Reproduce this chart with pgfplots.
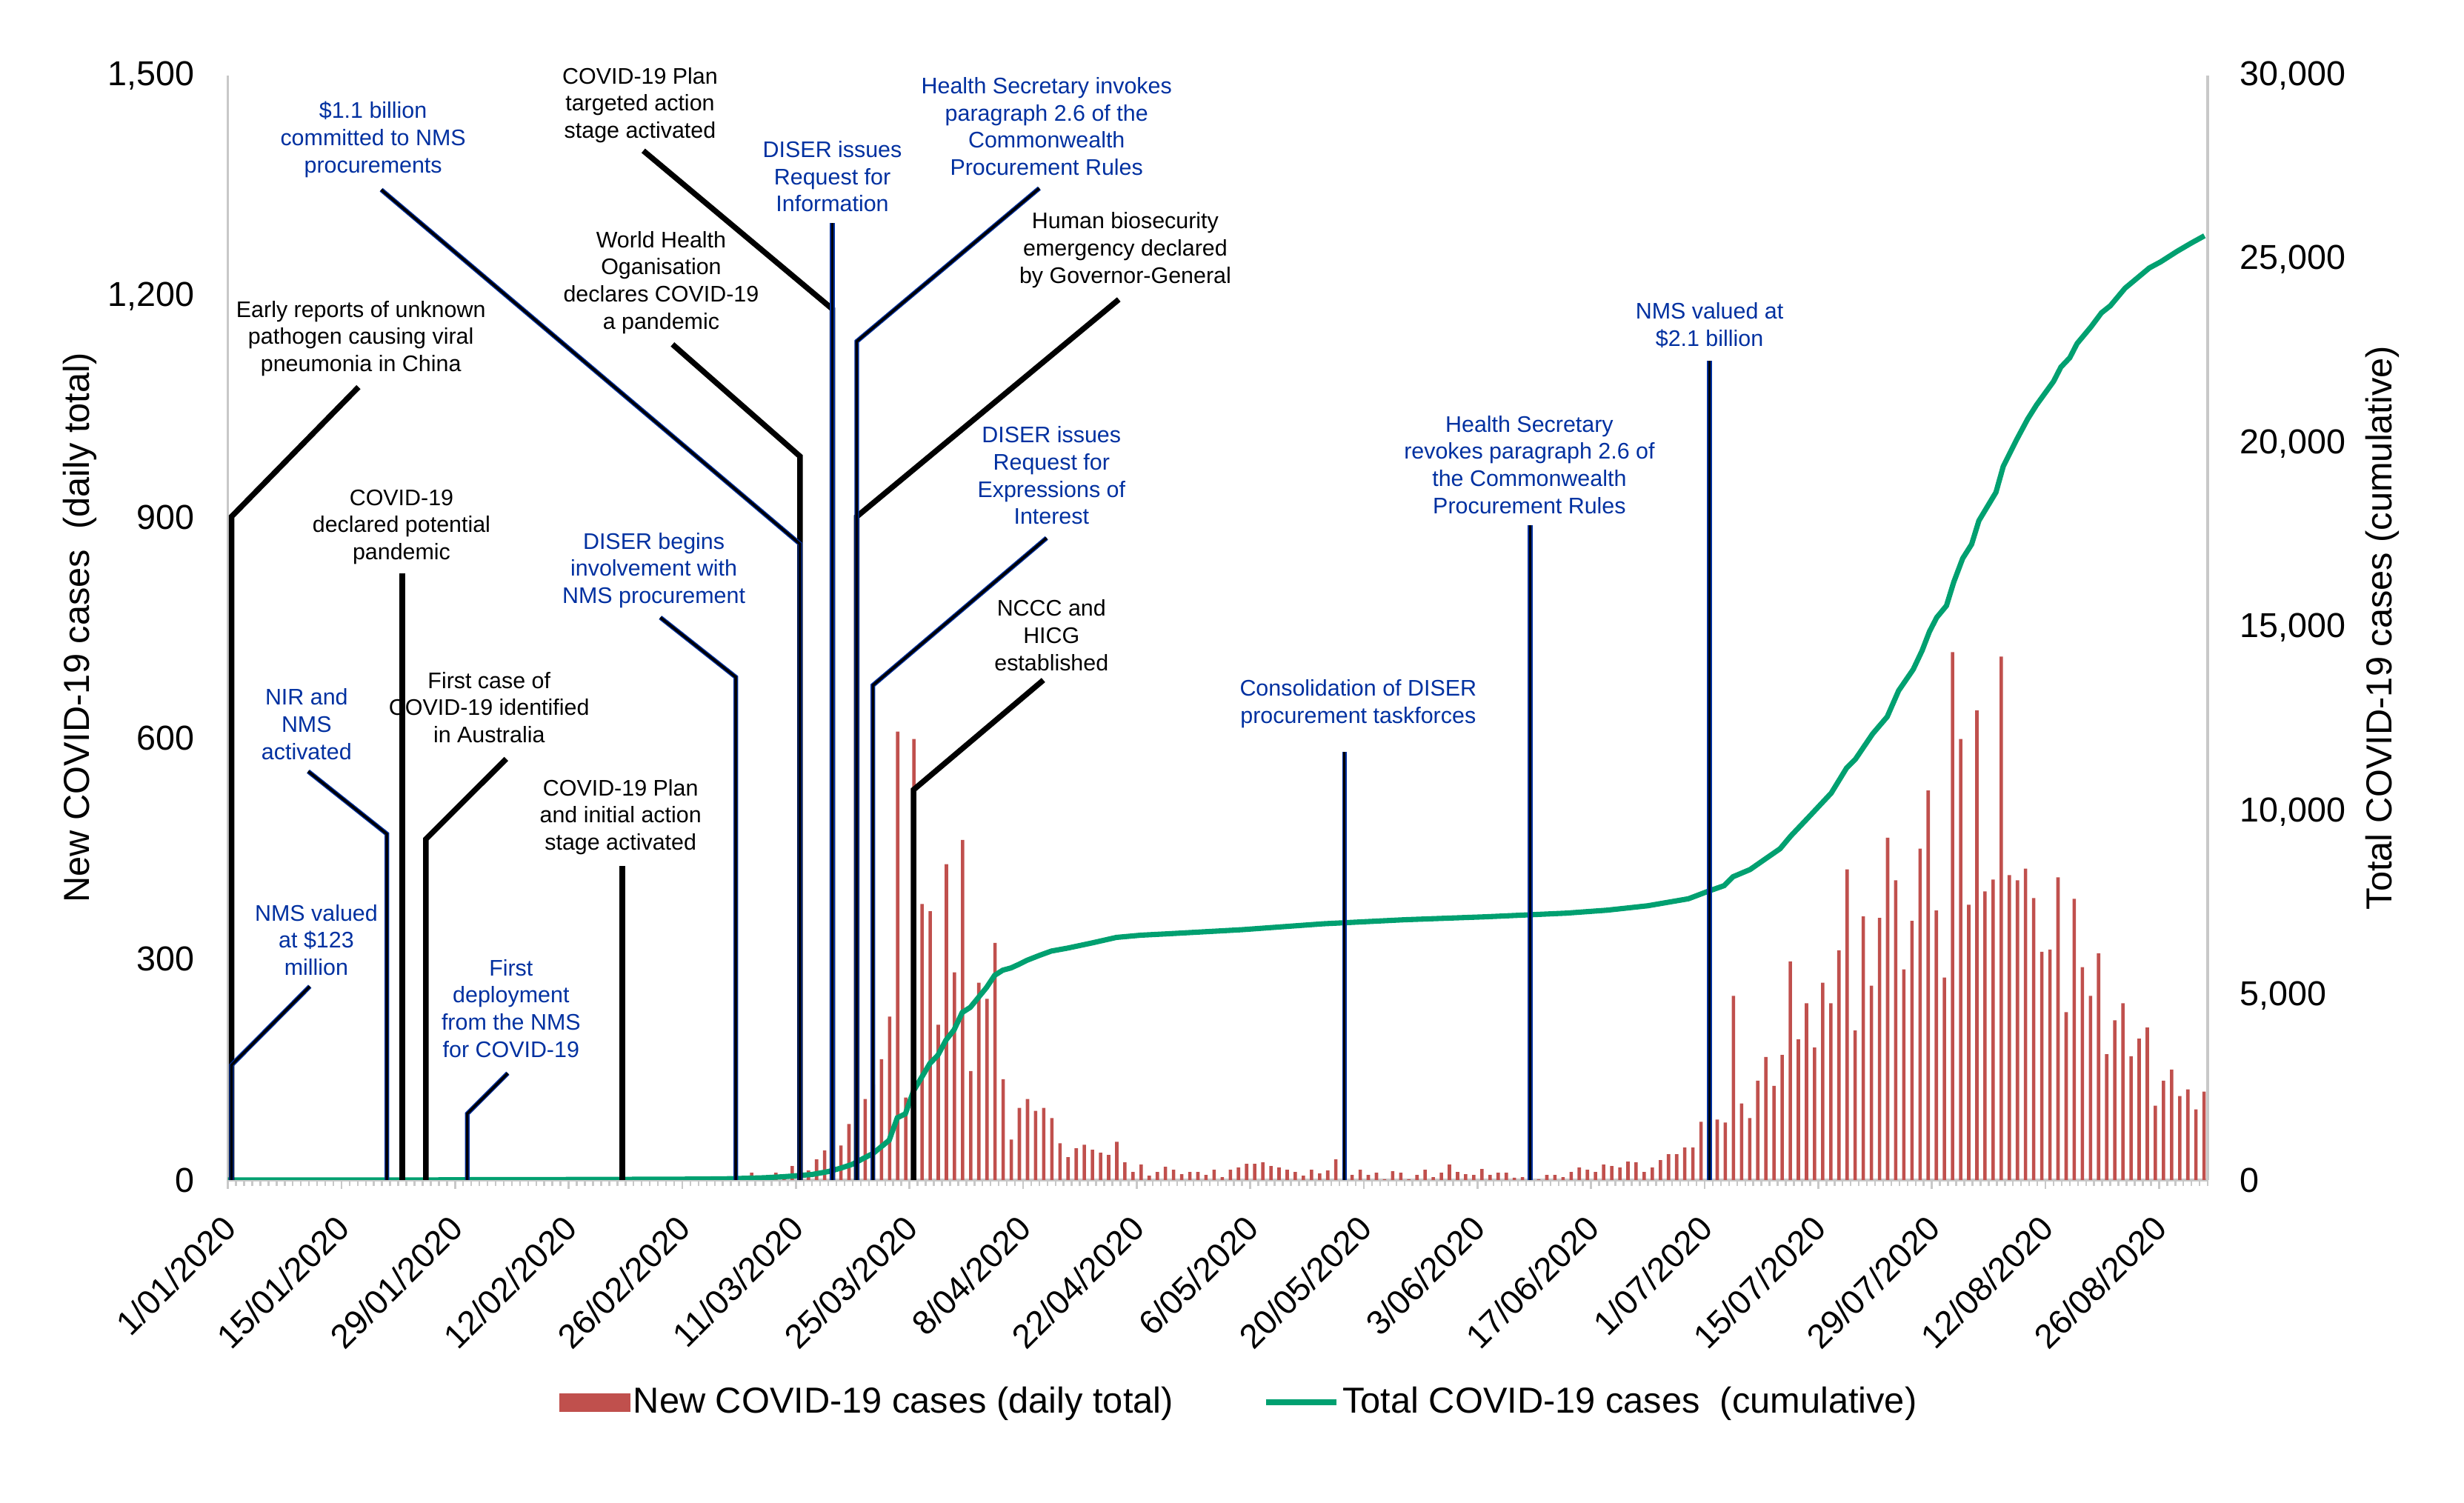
\documentclass[border=0pt]{standalone}
\usepackage{pgfplots}
\pgfplotsset{compat=1.18}
\usepackage{pgfplotstable}
\usepackage{fontspec}
\setmainfont{Liberation Sans}
\definecolor{barred}{RGB}{192,80,77}
\definecolor{cumgreen}{RGB}{0,160,112}
\definecolor{annblue}{RGB}{0,48,160}
\definecolor{axgray}{RGB}{200,200,200}

\pgfplotstableread[row sep=\\]{
d v\\
60 3\\ 61 2\\ 62 4\\ 63 3\\ 64 6\\ 65 10\\ 66 3\\ 67 2\\ 68 10\\ 69 4\\
70 19\\ 71 20\\ 72 13\\ 73 28\\ 74 40\\ 75 50\\ 76 47\\ 77 76\\ 78 90\\ 79 110\\
80 130\\ 81 164\\ 82 222\\ 83 609\\ 84 112\\ 85 599\\ 86 375\\ 87 365\\ 88 211\\ 89 429\\
90 282\\ 91 462\\ 92 148\\ 93 268\\ 94 246\\ 95 322\\ 96 137\\ 97 55\\ 98 98\\ 99 110\\
100 94\\ 101 98\\ 102 84\\ 103 50\\ 104 31\\ 105 43\\ 106 48\\ 107 41\\ 108 37\\ 109 34\\
110 52\\ 111 24\\ 112 11\\ 113 21\\ 114 6\\ 115 11\\ 116 18\\ 117 14\\ 118 8\\ 119 11\\
120 11\\ 121 7\\ 122 14\\ 123 4\\ 124 14\\ 125 17\\ 126 22\\ 127 22\\ 128 24\\ 129 19\\
130 17\\ 131 14\\ 132 11\\ 133 6\\ 134 14\\ 135 9\\ 136 13\\ 137 28\\ 138 10\\ 139 7\\
140 14\\ 141 7\\ 142 10\\ 143 1\\ 144 12\\ 145 10\\ 146 1\\ 147 7\\ 148 14\\ 149 4\\
150 10\\ 151 21\\ 152 11\\ 153 8\\ 154 7\\ 155 15\\ 156 7\\ 157 10\\ 158 10\\ 159 3\\
160 4\\ 161 2\\ 162 1\\ 163 7\\ 164 7\\ 165 4\\ 166 11\\ 167 17\\ 168 14\\ 169 11\\
170 21\\ 171 19\\ 172 17\\ 173 25\\ 174 24\\ 175 11\\ 176 17\\ 177 27\\ 178 35\\ 179 35\\
180 44\\ 181 44\\ 182 79\\ 183 85\\ 184 82\\ 185 78\\ 186 250\\ 187 104\\ 188 84\\ 189 135\\
190 167\\ 191 128\\ 192 170\\ 193 297\\ 194 191\\ 195 240\\ 196 180\\ 197 268\\ 198 240\\ 199 312\\
200 422\\ 201 203\\ 202 358\\ 203 264\\ 204 356\\ 205 465\\ 206 407\\ 207 286\\ 208 352\\ 209 450\\
210 529\\ 211 366\\ 212 275\\ 213 717\\ 214 599\\ 215 374\\ 216 638\\ 217 392\\ 218 408\\ 219 711\\
220 414\\ 221 407\\ 222 423\\ 223 383\\ 224 310\\ 225 313\\ 226 411\\ 227 228\\ 228 382\\ 229 289\\
230 250\\ 231 308\\ 232 171\\ 233 217\\ 234 240\\ 235 168\\ 236 192\\ 237 207\\ 238 101\\ 239 135\\
240 150\\ 241 114\\ 242 123\\ 243 96\\ 244 120\\
}\daily

\pgfplotstableread[row sep=\\]{
u c\\
0 0\\ 24 1\\ 30 9\\ 45 15\\ 58 25\\ 62 35\\ 63.5 45\\ 66 60\\ 68.5 90\\ 70 115\\
72 150\\ 74 230\\ 75.5 320\\ 77 430\\ 78.2 573\\ 79.5 720\\ 80.5 900\\ 81.5 1080\\ 82.5 1690\\ 83.5 1800\\
84.5 2420\\ 85.5 2790\\ 86.5 3160\\ 87.5 3390\\ 88.5 3800\\ 89.5 4080\\ 90.5 4550\\ 91.5 4690\\ 92.5 4960\\ 93.5 5230\\
94.5 5560\\ 95.5 5700\\ 96.5 5760\\ 97.5 5860\\ 98.5 5970\\ 100 6100\\ 101.5 6220\\ 103.5 6300\\ 106.5 6440\\ 109.5 6590\\
112.5 6650\\ 116 6690\\ 125 6800\\ 135 6960\\ 145 7070\\ 155 7150\\ 165 7250\\ 170 7330\\ 175 7450\\ 180 7640\\
182.5 7849\\ 184.4 7996\\ 185.5 8239\\ 187.6 8434\\ 189.7 8756\\ 191.3 9000\\ 192.6 9342\\ 194.7 9829\\ 197.6 10511\\ 199.5 11195\\
200.6 11438\\ 202.7 12120\\ 204.5 12585\\ 205.9 13291\\ 207.7 13869\\ 208.8 14382\\ 209.7 14895\\ 210.6 15281\\ 211.8 15601\\ 212.7 16243\\
213.8 16885\\ 214.9 17269\\ 215.8 17911\\ 217.9 18681\\ 218.8 19386\\ 220.4 20092\\ 221.8 20669\\ 222.9 21054\\ 225.0 21695\\ 225.9 22082\\
227.0 22337\\ 227.9 22723\\ 229.6 23172\\ 230.9 23556\\ 232.0 23749\\ 233.8 24224\\ 235.4 24518\\ 236.8 24775\\ 238.2 24942\\ 240.2 25224\\
242.0 25456\\ 243.6 25650\\
}\cumul

\pgfplotsset{
  base/.style={scale only axis, width=641.2pt, height=357.7pt, at={(0,0)}, anchor=south west,
    xmin=0, xmax=244, ymin=0},
}
\tikzset{ann/.style={align=center, font=\fontsize{7.3}{8.8}\selectfont, inner sep=0pt, anchor=center}}
\newcommand{\bann}[1]{\addplot[annblue, line width=1.5pt] coordinates {#1};\addplot[black, line width=0.85pt] coordinates {#1};}
\newcommand{\kann}[1]{\addplot[black, line width=1.8pt] coordinates {#1};}

\begin{document}
\begin{tikzpicture}
\begin{axis}[base, ymax=1500,
  axis x line*=bottom, axis y line*=left,
  axis line style={-, axgray, line width=0.8pt},
  ytick={0,300,...,1500},
  xtick={0,14,...,238},
  xticklabels={1/01/2020,15/01/2020,29/01/2020,12/02/2020,26/02/2020,11/03/2020,25/03/2020,8/04/2020,22/04/2020,6/05/2020,20/05/2020,3/06/2020,17/06/2020,1/07/2020,15/07/2020,29/07/2020,12/08/2020,26/08/2020},
  minor xtick={0,1,...,244},
  tick align=outside,
  major tick length=3pt, minor tick length=2pt,
  tick style={axgray, line width=0.6pt},
  ytick style={draw=none},
  /pgf/number format/1000 sep={,},
  /pgf/number format/assume math mode=true,
  yticklabel style={font=\fontsize{11.2}{13.4}\selectfont, anchor=east, inner sep=0pt, xshift=-7.7pt},
  xticklabel style={font=\fontsize{11}{13}\selectfont, inner sep=0pt, xshift=-2.4pt, yshift=-7.5pt, anchor=north east, rotate=45},
  ylabel={New COVID-19 cases~~(daily total)},
  every axis y label/.style={at={(axis description cs:0,0.5)}, xshift=-47.9pt, rotate=90, anchor=center, font=\fontsize{11.7}{14}\selectfont},
  legend style={at={(axis description cs:0.511,0)}, anchor=center, yshift=-72pt, draw=none, fill=none,
    font=\fontsize{11.7}{14}\selectfont, nodes={inner sep=1pt},
    /tikz/every even column/.append style={column sep=28pt}},
  legend columns=2,
]
\addplot[ybar, bar width=1.1pt, fill=barred, draw=none,
  legend image code/.code={\fill[barred] (0pt,-3pt) rectangle (23pt,3pt);}]
  table[x expr=\thisrow{d}-0.45, y=v]{\daily};
\addlegendentry{New COVID-19 cases (daily total)}
\addlegendimage{legend image code/.code={\draw[cumgreen, line width=1.8pt] (0pt,0pt) -- (23pt,0pt);}}
\addlegendentry{Total COVID-19 cases~~(cumulative)}
\end{axis}

\begin{axis}[base, ymax=30000,
  axis y line*=right, axis x line=none,
  axis line style={-, axgray, line width=0.8pt},
  ytick={0,5000,...,30000},
  scaled y ticks=false,
  ytick style={draw=none},
  /pgf/number format/1000 sep={,},
  /pgf/number format/assume math mode=true,
  yticklabel style={font=\fontsize{11.2}{13.4}\selectfont, anchor=west, inner sep=0pt, xshift=10.3pt},
  ylabel={Total COVID-19 cases (cumulative)},
  every axis y label/.style={at={(axis description cs:1,0.5)}, xshift=56.6pt, rotate=90, anchor=center, font=\fontsize{11.7}{14}\selectfont},
]
\addplot[cumgreen, line width=1.7pt, no marks] table[x=u, y=c]{\cumul};
\end{axis}

\begin{axis}[base, ymax=1500, hide axis, clip=false]
% black annotation lines
\kann{(0.45,0) (0.45,901) (16.1,1077)}
\kann{(21.5,0) (21.5,824)}
\kann{(24.4,0) (24.4,463) (34.3,572)}
\kann{(48.6,0) (48.6,427)}
\kann{(70.5,0) (70.5,983) (54.8,1135)}
\kann{(74.5,0) (74.5,1183) (51.2,1398)}
\kann{(77.5,0) (77.5,901) (109.8,1196)}
\kann{(84.5,0) (84.5,530) (100.5,679)}
% blue annotation lines
\bann{(0.45,0) (0.45,156) (10.1,263)}
\bann{(19.6,0) (19.6,470) (9.9,555)}
\bann{(29.5,0) (29.5,90) (34.5,145)}
\bann{(62.6,0) (62.6,683) (53.3,764)}
\bann{(70.5,0) (70.5,864) (18.9,1345)}
\bann{(74.5,0) (74.5,1300)}
\bann{(77.5,0) (77.5,1139) (100.0,1347)}
\bann{(79.5,0) (79.5,672) (100.9,872)}
\bann{(137.6,0) (137.6,582)}
\bann{(160.5,0) (160.5,889)}
\bann{(182.6,0) (182.6,1113)}
% labels
\node[ann, annblue] at (axis cs:10.9,326) {NMS valued\\at \$123\\million};
\node[ann] at (axis cs:16.4,1143) {Early reports of unknown\\pathogen causing viral\\pneumonia in China};
\node[ann, annblue] at (axis cs:9.7,619) {NIR and\\NMS\\activated};
\node[ann] at (axis cs:21.4,887) {COVID-19\\declared potential\\pandemic};
\node[ann] at (axis cs:32.2,642) {First case of\\COVID-19 identified\\in Australia};
\node[ann, annblue] at (axis cs:34.9,233) {First\\deployment\\from the NMS\\for COVID-19};
\node[ann] at (axis cs:48.4,493) {COVID-19 Plan\\and initial action\\stage activated};
\node[ann, annblue] at (axis cs:52.5,828) {DISER begins\\involvement with\\NMS procurement};
\node[ann, annblue] at (axis cs:17.9,1413) {\$1.1 billion\\committed to NMS\\procurements};
\node[ann] at (axis cs:53.4,1219) {World Health\\Oganisation\\declares COVID-19\\a pandemic};
\node[ann] at (axis cs:50.8,1460) {COVID-19 Plan\\targeted action\\stage activated};
\node[ann, annblue] at (axis cs:74.5,1363) {DISER issues\\Request for\\Information};
\node[ann, annblue] at (axis cs:100.9,1431) {Health Secretary invokes\\paragraph 2.6 of the\\Commonwealth\\Procurement Rules};
\node[ann] at (axis cs:110.6,1263) {Human biosecurity\\emergency declared\\by Governor-General};
\node[ann, annblue] at (axis cs:101.5,957) {DISER issues\\Request for\\Expressions of\\Interest};
\node[ann] at (axis cs:101.5,740) {NCCC and\\HICG\\established};
\node[ann, annblue] at (axis cs:139.3,647) {Consolidation of DISER\\procurement taskforces};
\node[ann, annblue] at (axis cs:160.4,971.5) {Health Secretary\\revokes paragraph 2.6 of\\the Commonwealth\\Procurement Rules};
\node[ann, annblue] at (axis cs:182.6,1161) {NMS valued at\\\$2.1 billion};
\end{axis}
\pgfresetboundingbox
\path[use as bounding box] (-73.8pt,-104.6pt) rectangle (724.2pt,382.2pt);
\end{tikzpicture}
\end{document}
